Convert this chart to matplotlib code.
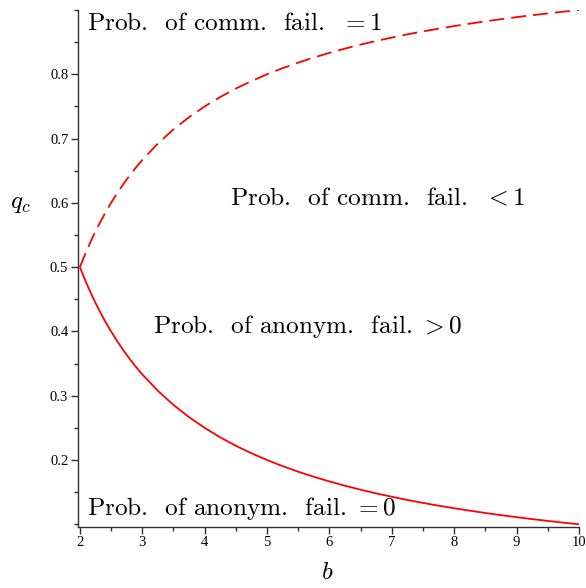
import matplotlib
matplotlib.use("Agg")
import matplotlib.pyplot as plt
from matplotlib.ticker import MultipleLocator

plt.rcParams["mathtext.fontset"] = "cm"

# Threshold curves q_c(b)
b_vals = [2.0, 2.1, 2.2, 2.3, 2.4, 2.5, 2.6, 2.7, 2.8, 2.9, 3.0, 3.25, 3.5,
          3.75, 4.0, 4.25, 4.5, 4.75, 5.0, 5.25, 5.5, 5.75, 6.0, 6.25, 6.5,
          6.75, 7.0, 7.25, 7.5, 7.75, 8.0, 8.25, 8.5, 8.75, 9.0, 9.25, 9.5,
          9.75, 10.0]
q_anonym = [0.5, 0.4762, 0.4545, 0.4348, 0.4167, 0.4, 0.3846, 0.3704, 0.3571,
            0.3448, 0.3333, 0.3077, 0.2857, 0.2667, 0.25, 0.2353, 0.2222,
            0.2105, 0.2, 0.1905, 0.1818, 0.1739, 0.1667, 0.16, 0.1538, 0.1481,
            0.1429, 0.1379, 0.1333, 0.129, 0.125, 0.1212, 0.1176, 0.1143,
            0.1111, 0.1081, 0.1053, 0.1026, 0.1]
q_comm = [0.5, 0.5238, 0.5455, 0.5652, 0.5833, 0.6, 0.6154, 0.6296, 0.6429,
          0.6552, 0.6667, 0.6923, 0.7143, 0.7333, 0.75, 0.7647, 0.7778,
          0.7895, 0.8, 0.8095, 0.8182, 0.8261, 0.8333, 0.84, 0.8462, 0.8519,
          0.8571, 0.8621, 0.8667, 0.871, 0.875, 0.8788, 0.8824, 0.8857,
          0.8889, 0.8919, 0.8947, 0.8974, 0.9]

x_ticks = [2, 3, 4, 5, 6, 7, 8, 9, 10]
y_ticks = [0.2, 0.3, 0.4, 0.5, 0.6, 0.7, 0.8]

region_labels = [
    (2.11, 0.879, r"Prob.  of comm.  fail.  $=1$"),
    (4.40, 0.607, r"Prob.  of comm.  fail.  $<1$"),
    (3.17, 0.407, r"Prob.  of anonym.  fail. $>0$"),
    (2.11, 0.125, r"Prob.  of anonym.  fail. $=0$"),
]

fig = plt.figure(figsize=(5.86, 5.88), dpi=100)
ax = fig.add_axes([78 / 586, 1 - 526.7 / 588, (579 - 78) / 586, (526.7 - 10) / 588])

ax.plot(b_vals, q_anonym, color="#ff0000", lw=1.3, solid_capstyle="butt")
ax.plot(b_vals, q_comm, color="#ff0000", lw=1.3, dashes=(8.3, 3.9))

ax.set_xlim(1.97, 10.0)
ax.set_ylim(0.0963, 0.9)

for side in ("top", "right"):
    ax.spines[side].set_visible(False)
for side in ("left", "bottom"):
    ax.spines[side].set_color("#303030")
    ax.spines[side].set_linewidth(1.0)

ax.set_xticks(x_ticks)
ax.set_yticks(y_ticks)
ax.set_xticklabels([str(t) for t in x_ticks])
ax.set_yticklabels([f"{t:.1f}" for t in y_ticks])
ax.xaxis.set_minor_locator(MultipleLocator(0.5))
ax.yaxis.set_minor_locator(MultipleLocator(0.05))
ax.tick_params(axis="both", which="major", direction="out", length=5,
               width=1.0, color="#303030", labelsize=10.5, pad=2)
ax.tick_params(axis="both", which="minor", direction="out", length=3,
               width=1.0, color="#303030")
for lbl in ax.get_xticklabels() + ax.get_yticklabels():
    lbl.set_fontfamily("Liberation Serif")

for x, y, s in region_labels:
    ax.text(x, y, s, fontsize=18.2, family="cmr10", ha="left", va="center",
            color="black")

fig.text(20 / 586, 1 - 203 / 588, r"$q_c$", fontsize=18, ha="center", va="center")
fig.text(327 / 586, 1 - 572 / 588, r"$b$", fontsize=18, ha="center", va="center")

fig.savefig("out.png", dpi=100)
